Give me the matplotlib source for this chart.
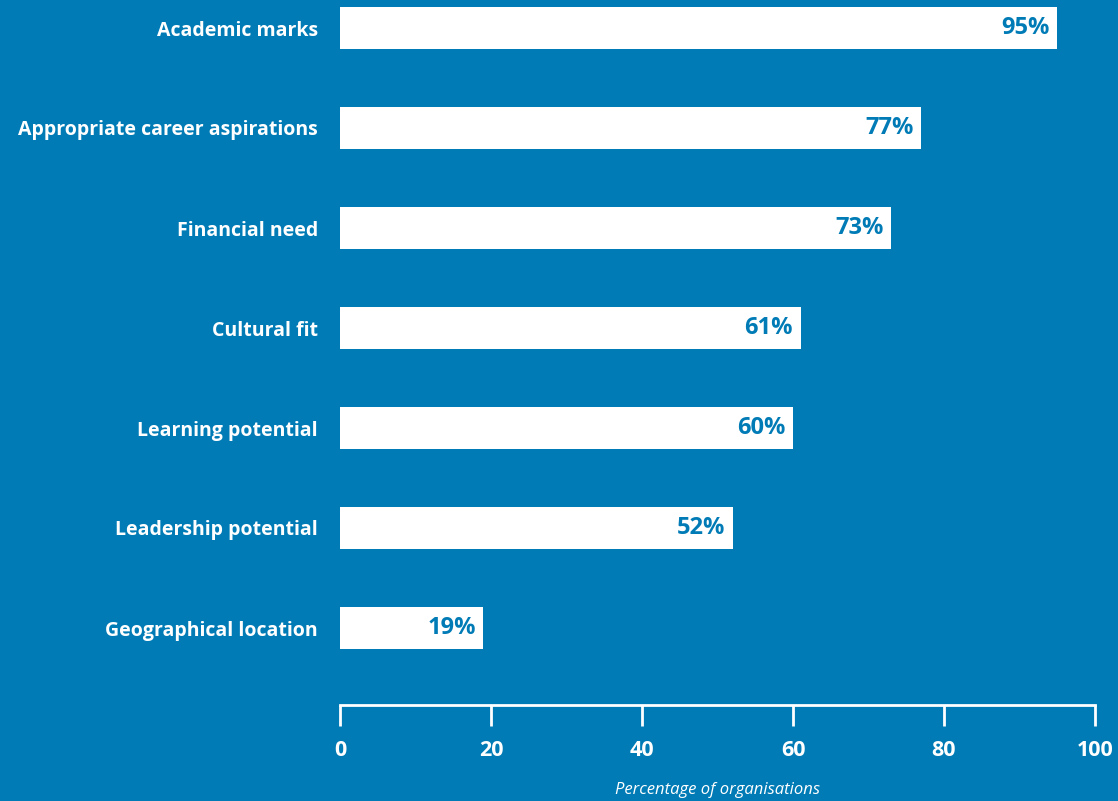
import matplotlib.pyplot as plt

BLUE = '#007bb6'

categories = [
    'Academic marks',
    'Appropriate career aspirations',
    'Financial need',
    'Cultural fit',
    'Learning potential',
    'Leadership potential',
    'Geographical location',
]
percentages = [95, 77, 73, 61, 60, 52, 19]
x_ticks = [0, 20, 40, 60, 80, 100]

plt.rcParams['font.family'] = ['Open Sans', 'DejaVu Sans']

fig = plt.figure(figsize=(11.18, 8.01), dpi=100, facecolor=BLUE)
ax = fig.add_axes([340 / 1118, 96 / 801, 755 / 1118, 705 / 801])
ax.set_facecolor(BLUE)

positions = list(range(len(categories)))
ax.barh(positions, percentages, height=0.42, color='white')

for pos, value in zip(positions, percentages):
    ax.text(value - 1.0, pos, '{}%'.format(value), ha='right', va='center',
            color=BLUE, fontsize=17, fontweight='bold')

ax.set_ylim(6.77, -0.28)
ax.set_xlim(0, 100)

ax.set_yticks(positions)
ax.set_yticklabels(categories, color='white', fontsize=14, fontweight='bold')
ax.tick_params(axis='y', length=0, pad=16)

ax.set_xticks(x_ticks)
ax.set_xticklabels([str(t) for t in x_ticks], color='white', fontsize=15.5,
                   fontweight='bold')
ax.tick_params(axis='x', direction='out', length=15, width=2, color='white', pad=10)

for side in ['top', 'right', 'left']:
    ax.spines[side].set_visible(False)
ax.spines['bottom'].set_color('white')
ax.spines['bottom'].set_linewidth(2)

ax.set_xlabel('Percentage of organisations', color='white', fontsize=12,
              fontstyle='italic', labelpad=15)

fig.savefig('out.png', dpi=100, facecolor=BLUE)
